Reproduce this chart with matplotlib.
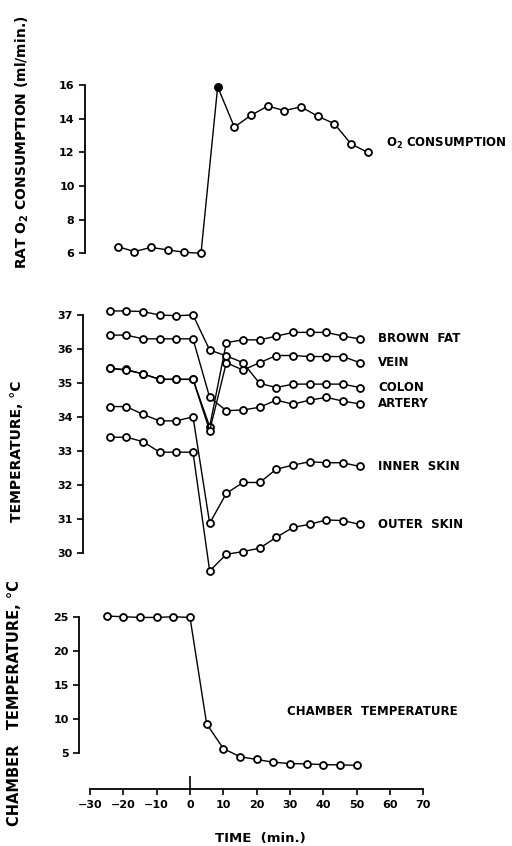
import matplotlib
matplotlib.use('Agg')
import matplotlib.pyplot as plt

# time points (min) shared by every series
time = [-25, -20, -15, -10, -5, 0, 5, 10, 15, 20, 25, 30, 35, 40, 45, 50]

# rat O2 consumption (ml/min)
o2 = [6.4, 6.1, 6.35, 6.2, 6.06, 6.0, 15.9, 13.5, 14.2, 14.75, 14.48, 14.7, 14.15, 13.7, 12.5, 12.0]

# tissue temperatures (deg C)
brown_fat = [35.43, 35.4, 35.27, 35.11, 35.11, 35.11, 33.72, 36.19, 36.27, 36.27, 36.38, 36.49, 36.49, 36.49, 36.38, 36.3]
vein = [35.43, 35.38, 35.27, 35.11, 35.11, 35.11, 33.6, 35.6, 35.38, 35.6, 35.81, 35.81, 35.78, 35.78, 35.78, 35.6]
colon = [37.12, 37.12, 37.1, 37.0, 36.98, 37.0, 35.97, 35.8, 35.6, 34.99, 34.87, 34.97, 34.97, 34.97, 34.97, 34.87]
artery = [36.41, 36.41, 36.3, 36.3, 36.3, 36.3, 34.58, 34.19, 34.21, 34.29, 34.5, 34.38, 34.5, 34.58, 34.47, 34.39]
inner_skin = [34.31, 34.31, 34.08, 33.89, 33.89, 34.01, 30.88, 31.76, 32.08, 32.08, 32.47, 32.59, 32.69, 32.66, 32.66, 32.55]
outer_skin = [33.41, 33.41, 33.28, 32.97, 32.97, 32.97, 29.48, 29.97, 30.05, 30.15, 30.47, 30.76, 30.85, 30.98, 30.96, 30.85]
tissue_names = ['BROWN  FAT', 'VEIN', 'COLON', 'ARTERY', 'INNER  SKIN', 'OUTER  SKIN']

# chamber air temperature (deg C)
chamber = [25.1, 25.0, 24.9, 24.9, 25.0, 24.9, 9.3, 5.7, 4.5, 4.1, 3.7, 3.5, 3.45, 3.35, 3.3, 3.25]

x_ticks = list(range(-30, 71, 10))

plt.rcParams['font.family'] = ['DejaVu Sans']
plt.rcParams['font.weight'] = 'bold'
plt.rcParams['mathtext.default'] = 'bf'

W, H = 512, 846
S = 10 / 3.0  # pixels per minute
fig = plt.figure(figsize=(W / 100, H / 100), dpi=100)

line_kw = dict(color='k', lw=1.0, marker='o', ms=5, mfc='white', mec='k', mew=1.3)


def add_panel(x0, ytop, ybot):
    # x0: pixel of t=-30; ytop/ybot: pixels of the y limits
    left = x0 - 6 * S
    ax = fig.add_axes([left / W, 1 - ybot / H, 108 * S / W, (ybot - ytop) / H])
    ax.set_xlim(-36, 72)
    for s in ['top', 'right']:
        ax.spines[s].set_visible(False)
    ax.spines['left'].set_linewidth(1.3)
    ax.spines['bottom'].set_linewidth(1.3)
    ax.tick_params(axis='y', direction='out', length=4.5, width=1.2, labelsize=8, pad=3)
    ax.patch.set_visible(False)
    return ax


# ---- top: O2 consumption
ax1 = add_panel(101, 76.6, 270.1)
ax1.set_ylim(5, 16.5)
ax1.plot(time, o2, **line_kw)
ax1.plot(time[6], o2[6], 'o', ms=5, mfc='k', mec='k')
ax1.set_yticks([6, 8, 10, 12, 14, 16])
ax1.spines['left'].set_bounds(6, 16)
ax1.spines['left'].set_position(('data', -34.8))
ax1.spines['bottom'].set_visible(False)
ax1.set_xticks([])
ax1.text(55.5, o2[-1] + 0.5, 'O$_2$ CONSUMPTION', fontsize=8.5, va='center', ha='left')

# ---- middle: tissue temperatures
ax2 = add_panel(93, 301.4, 580.5)
ax2.set_ylim(29.2, 37.4)
series = [brown_fat, vein, colon, artery, inner_skin, outer_skin]
for vals, name in zip(series, tissue_names):
    ax2.plot(time, vals, **line_kw)
    ax2.text(55.5, vals[-1], name, fontsize=8.5, va='center', ha='left')
ax2.set_yticks(range(30, 38))
ax2.spines['left'].set_bounds(30, 37)
ax2.spines['left'].set_position(('data', -33.0))
ax2.spines['bottom'].set_visible(False)
ax2.set_xticks([])

# ---- bottom: chamber temperature
ax3 = add_panel(90, 606.5, 788.5)
ax3.set_ylim(-0.15, 26.5)
ax3.plot(time, chamber, **line_kw)
ax3.text(29, 11.1, 'CHAMBER  TEMPERATURE', fontsize=8.5, va='center', ha='left')
ax3.set_yticks([5, 10, 15, 20, 25])
ax3.spines['left'].set_bounds(5, 25)
ax3.spines['left'].set_position(('data', -33.3))
ax3.spines['bottom'].set_bounds(-30, 70)
ax3.set_xticks(x_ticks)
ax3.set_xticks([0], minor=True)
ax3.xaxis.remove_overlapping_locs = False
ax3.tick_params(axis='x', which='major', direction='out', length=4.5, width=1.2, labelsize=8, pad=4)
ax3.tick_params(axis='x', which='minor', direction='in', length=9.5, width=1.2)

# axis titles
fig.text(22.5 / W, 1 - 142 / H, 'RAT O$_2$ CONSUMPTION (ml/min.)', rotation=90,
         ha='center', va='center', fontsize=10)
fig.text(17.5 / W, 1 - 451.5 / H, 'TEMPERATURE, °C', rotation=90,
         ha='center', va='center', fontsize=10)
fig.text(15 / W, 1 - 703 / H, 'CHAMBER   TEMPERATURE, °C', rotation=90,
         ha='center', va='center', fontsize=10.5)
fig.text(260 / W, 1 - 838 / H, 'TIME  (min.)', ha='center', va='center', fontsize=9.5)

fig.savefig('out.png', dpi=100, facecolor='white')
